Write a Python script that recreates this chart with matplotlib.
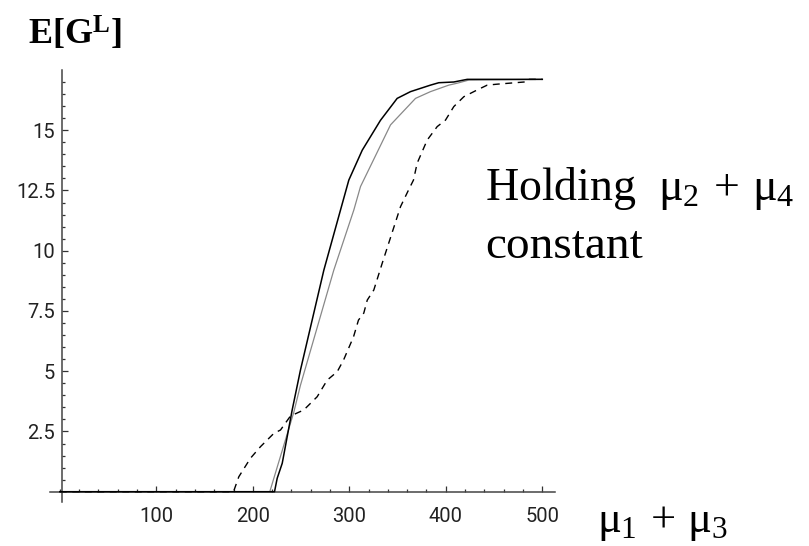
import matplotlib
matplotlib.use("Agg")
import matplotlib.pyplot as plt
from matplotlib.ticker import MultipleLocator, FixedLocator

plt.rcParams['mathtext.fontset'] = 'custom'
plt.rcParams['mathtext.rm'] = 'Liberation Serif'
plt.rcParams['mathtext.it'] = 'Liberation Serif'
plt.rcParams['mathtext.bf'] = 'Liberation Serif:bold'

# expected G^L as mu1 + mu3 grows, three configurations
x_solid = [0, 222.5, 225.3, 230.5, 240.8, 249.4, 273.6, 290.9, 299.5, 313.4,
           332.3, 349.6, 363.4, 384.1, 392.7, 408.3, 422.2, 500]
y_solid = [0, 0, 0.56, 1.18, 3.39, 5.05, 9.19, 11.69, 12.93, 14.17,
           15.41, 16.32, 16.6, 16.87, 16.97, 17.0, 17.11, 17.11]

x_gray = [0, 217.6, 242.5, 249.4, 283.9, 304.7, 311.6, 342.7, 368.6, 384.1,
          403.1, 411.8, 423.8, 500]
y_gray = [0, 0, 3.3, 4.42, 9.19, 11.69, 12.66, 15.22, 16.32, 16.6,
          16.87, 16.95, 17.08, 17.11]

x_dash = [0, 180, 185.5, 197.6, 208, 221.8, 228.7, 239, 252.8, 266.7, 277.1,
          287.5, 294, 304.4, 309.5, 315, 318.6, 325.4, 334.1, 353.1, 361.4,
          366.5, 370.3, 380.7, 391.1, 399.7, 408.3, 418.7, 432.5, 442.9,
          453.3, 484.4, 486, 500]
y_dash = [0, 0, 0.62, 1.39, 1.87, 2.42, 2.56, 3.14, 3.39, 3.94, 4.63,
          4.98, 5.46, 6.43, 7.12, 7.41, 7.95, 8.37, 9.48, 11.83, 12.52,
          12.93, 13.63, 14.59, 15.15, 15.42, 15.98, 16.39, 16.67, 16.87,
          16.91, 17.01, 17.11, 17.11]

x_major = [100, 200, 300, 400, 500]
y_major = [2.5, 5, 7.5, 10, 12.5, 15]

W, H = 809, 546
fig = plt.figure(figsize=(W / 100, H / 100), dpi=100)

# axes placed so data 0 sits at x=59.8px, y=491.7px
x0, xs = 59.8, 0.965
y0, ys = 491.7, 24.1
xlim = (-10, 513)
ylim = (-0.42, 17.5)
left = (x0 + xs * xlim[0]) / W
right = (x0 + xs * xlim[1]) / W
top = 1 - (y0 - ys * ylim[1]) / H
bottom = 1 - (y0 - ys * ylim[0]) / H
ax = fig.add_axes([left, bottom, right - left, top - bottom])
ax.set_xlim(*xlim)
ax.set_ylim(*ylim)

ax.plot(x_gray, y_gray, color='#888888', lw=0.9, zorder=3)
ax.plot(x_solid, y_solid, color='black', lw=1.1, zorder=4)
ax.plot(x_dash, y_dash, color='black', lw=1.0, dashes=(5, 4), zorder=3)

for s in ['top', 'right']:
    ax.spines[s].set_visible(False)
ax.spines['left'].set_position(('data', 2.3))
ax.spines['bottom'].set_position(('data', 0))
for s in ['left', 'bottom']:
    ax.spines[s].set_color('#444444')
    ax.spines[s].set_linewidth(1.1)

ax.xaxis.set_major_locator(FixedLocator(x_major))
ax.xaxis.set_minor_locator(MultipleLocator(20))
ax.yaxis.set_major_locator(FixedLocator(y_major))
ax.yaxis.set_minor_locator(FixedLocator([i * 0.5 for i in range(1, 35)]))
ax.set_xticklabels([str(v) for v in x_major])
ax.set_yticklabels(['2.5', '5', '7.5', '10', '12.5', '15'])

ax.tick_params(which='both', direction='in', color='#333333', width=0.9)
ax.tick_params(which='major', length=4)
ax.tick_params(which='minor', length=2.5)
ax.tick_params(axis='x', which='major', pad=11, labelsize=14.5, labelcolor='#222222')
ax.tick_params(axis='y', which='major', pad=5, labelsize=14.5, labelcolor='#222222')
for lab in ax.get_xticklabels() + ax.get_yticklabels():
    lab.set_family(['Roboto', 'DejaVu Sans'])
    lab.set_weight('normal')

fig.text(28 / W, 1 - 45 / H, r'$\mathbf{E[G^L]}$', fontsize=26,
         family='Liberation Serif', va='baseline', ha='left')
fig.text(485 / W, 1 - 200 / H, r'Holding  $\mu_2\,+\,\mu_4$', fontsize=33,
         family='Liberation Serif', va='baseline', ha='left')
fig.text(485 / W, 1 - 258 / H, 'constant', fontsize=34,
         family='Liberation Serif', va='baseline', ha='left')
fig.text(597 / W, 1 - 532 / H, r'$\mu_1\,+\,\mu_3$', fontsize=32,
         family='Liberation Serif', va='baseline', ha='left')

fig.savefig('out.png', dpi=100)
